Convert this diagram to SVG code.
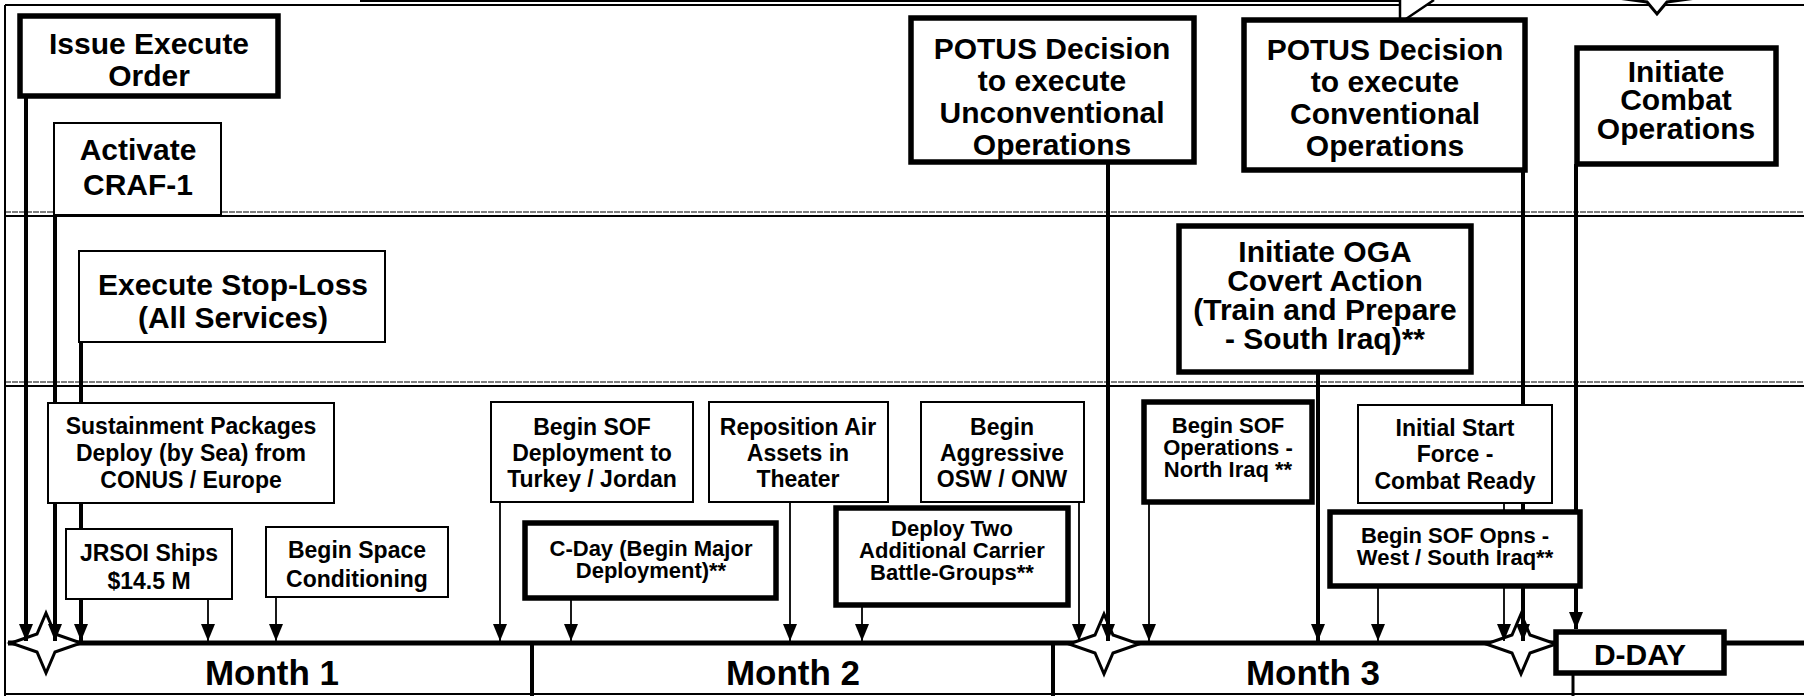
<svg xmlns="http://www.w3.org/2000/svg" width="1804" height="696" viewBox="0 0 1804 696">
<style>
text{font-family:"Liberation Sans",Arial,Helvetica,sans-serif;font-weight:bold;fill:#000;text-anchor:middle}
.b{font-size:30px}
.m{font-size:23px}
.s{font-size:22px}
.mo{font-size:35px}
.thin{fill:#fff;stroke:#000;stroke-width:2}
.thick{fill:#fff;stroke:#000;stroke-width:5.5}
.c1{stroke:#000;stroke-width:4;fill:none}
.c2{stroke:#000;stroke-width:1.8;fill:none}
.ln{stroke:#000;fill:none}
.star{fill:#fff;stroke:#000;stroke-width:3;stroke-linejoin:miter}
</style>
<defs>
<marker id="ah" markerUnits="userSpaceOnUse" markerWidth="17" markerHeight="14" viewBox="0 0 17 14" refX="17" refY="7" orient="auto">
<path d="M0,0 L17,7 L0,14 Z" fill="#000"/>
</marker>
<path id="star" d="M0,-30 L9,-9 L35,0 L9,9 L0,30 L-9,9 L-35,0 L-9,-9 Z"/>
</defs>
<rect width="1804" height="696" fill="#fff"/>
<g id="frame">
<line class="ln" x1="5" y1="5" x2="1804" y2="5" stroke-width="2"/>
<line class="ln" x1="5" y1="5" x2="5" y2="696" stroke-width="2"/>
<line class="ln" x1="360" y1="1" x2="1400" y2="1" stroke-width="2"/>
<path d="M1400,0 L1400,23 L1434,0" fill="#fff" stroke="#000" stroke-width="2.5"/>
<path d="M1603,-4 L1647,2 L1657,14 L1667,2 L1711,-4 L1667,-10 L1657,-22 L1647,-10 Z" fill="#fff" stroke="#000" stroke-width="3"/>
<line class="ln" x1="5" y1="212" x2="1804" y2="212" stroke-width="1.2" stroke-dasharray="6 1"/>
<line class="ln" x1="5" y1="216" x2="1804" y2="216" stroke-width="1.8"/>
<line class="ln" x1="5" y1="382" x2="1804" y2="382" stroke-width="1.2" stroke-dasharray="6 1"/>
<line class="ln" x1="5" y1="386" x2="1804" y2="386" stroke-width="1.8"/>
</g>
<g id="timeline">
<line class="ln" x1="8" y1="643" x2="1804" y2="643" stroke-width="5"/>
<line class="ln" x1="5" y1="694" x2="1804" y2="694" stroke-width="2"/>
<line class="ln" x1="532" y1="643" x2="532" y2="696" stroke-width="4"/>
<line class="ln" x1="1053" y1="643" x2="1053" y2="696" stroke-width="4"/>
<line class="ln" x1="1573" y1="643" x2="1573" y2="696" stroke-width="3"/>
<text class="mo" x="272" y="685">Month 1</text>
<text class="mo" x="793" y="685">Month 2</text>
<text class="mo" x="1313" y="685">Month 3</text>
<use href="#star" class="star" x="46" y="643"/>
<use href="#star" class="star" x="1104" y="644"/>
<use href="#star" class="star" x="1521" y="644"/>
</g>
<g id="connectors">
<line class="c1" x1="26" y1="98" x2="26" y2="641" marker-end="url(#ah)"/>
<line class="c1" x1="55" y1="215" x2="55" y2="641" marker-end="url(#ah)"/>
<line class="c1" x1="81" y1="342" x2="81" y2="641" marker-end="url(#ah)"/>
<line class="c2" x1="208" y1="599" x2="208" y2="641" marker-end="url(#ah)"/>
<line class="c2" x1="276" y1="597" x2="276" y2="641" marker-end="url(#ah)"/>
<line class="c2" x1="500" y1="502" x2="500" y2="641" marker-end="url(#ah)"/>
<line class="c2" x1="571" y1="600" x2="571" y2="641" marker-end="url(#ah)"/>
<line class="c2" x1="790" y1="502" x2="790" y2="641" marker-end="url(#ah)"/>
<line class="c2" x1="862" y1="607" x2="862" y2="641" marker-end="url(#ah)"/>
<line class="c2" x1="1079" y1="502" x2="1079" y2="641" marker-end="url(#ah)"/>
<line class="c1" x1="1108" y1="164" x2="1108" y2="641" marker-end="url(#ah)"/>
<line class="c2" x1="1149" y1="503" x2="1149" y2="641" marker-end="url(#ah)"/>
<line class="c1" x1="1318" y1="374" x2="1318" y2="641" marker-end="url(#ah)"/>
<line class="c2" x1="1378" y1="587" x2="1378" y2="641" marker-end="url(#ah)"/>
<line class="c2" x1="1504" y1="503" x2="1504" y2="641" marker-end="url(#ah)"/>
<line class="c1" x1="1523" y1="172" x2="1523" y2="641" marker-end="url(#ah)"/>
<line class="c1" x1="1576" y1="164" x2="1576" y2="629" marker-end="url(#ah)"/>
</g>
<g id="issue-execute-order">
<rect class="thick" x="20" y="16" width="258" height="80"/>
<text class="b" x="149" y="54">Issue Execute</text>
<text class="b" x="149" y="86">Order</text>
</g>
<g id="activate-craf-1">
<rect class="thin" x="54" y="123" width="167" height="92"/>
<text class="b" x="138" y="160">Activate</text>
<text class="b" x="138" y="195">CRAF-1</text>
</g>
<g id="execute-stop-loss">
<rect class="thin" x="79" y="251" width="306" height="91"/>
<text class="b" x="233" y="295">Execute Stop-Loss</text>
<text class="b" x="233" y="328">(All Services)</text>
</g>
<g id="sustainment-packages">
<rect class="thin" x="48" y="403" width="286" height="100"/>
<text class="m" x="191" y="434">Sustainment Packages</text>
<text class="m" x="191" y="461">Deploy (by Sea) from</text>
<text class="m" x="191" y="488">CONUS / Europe</text>
</g>
<g id="jrsoi-ships">
<rect class="thin" x="66" y="529" width="166" height="70"/>
<text class="m" x="149" y="561">JRSOI Ships</text>
<text class="m" x="149" y="589">$14.5 M</text>
</g>
<g id="begin-space-conditioning">
<rect class="thin" x="266" y="527" width="182" height="70"/>
<text class="m" x="357" y="558">Begin Space</text>
<text class="m" x="357" y="587">Conditioning</text>
</g>
<g id="begin-sof-deployment">
<rect class="thin" x="491" y="402" width="202" height="100"/>
<text class="m" x="592" y="435">Begin SOF</text>
<text class="m" x="592" y="461">Deployment to</text>
<text class="m" x="592" y="487">Turkey / Jordan</text>
</g>
<g id="c-day">
<rect class="thick" x="525" y="523" width="251" height="75"/>
<text class="s" x="651" y="556">C-Day (Begin Major</text>
<text class="s" x="651" y="578">Deployment)**</text>
</g>
<g id="reposition-air-assets">
<rect class="thin" x="709" y="402" width="179" height="100"/>
<text class="m" x="798" y="435">Reposition Air</text>
<text class="m" x="798" y="461">Assets in</text>
<text class="m" x="798" y="487">Theater</text>
</g>
<g id="begin-aggressive-osw-onw">
<rect class="thin" x="921" y="402" width="163" height="100"/>
<text class="m" x="1002" y="435">Begin</text>
<text class="m" x="1002" y="461">Aggressive</text>
<text class="m" x="1002" y="487">OSW / ONW</text>
</g>
<g id="deploy-two-carrier-groups">
<rect class="thick" x="836" y="508" width="232" height="97"/>
<text class="s" x="952" y="536">Deploy Two</text>
<text class="s" x="952" y="558">Additional Carrier</text>
<text class="s" x="952" y="580">Battle-Groups**</text>
</g>
<g id="potus-unconventional">
<rect class="thick" x="911" y="18" width="283" height="144"/>
<text class="b" x="1052" y="59">POTUS Decision</text>
<text class="b" x="1052" y="91">to execute</text>
<text class="b" x="1052" y="123">Unconventional</text>
<text class="b" x="1052" y="155">Operations</text>
</g>
<g id="potus-conventional">
<rect class="thick" x="1244" y="20" width="281" height="150"/>
<text class="b" x="1385" y="60">POTUS Decision</text>
<text class="b" x="1385" y="92">to execute</text>
<text class="b" x="1385" y="124">Conventional</text>
<text class="b" x="1385" y="156">Operations</text>
</g>
<g id="initiate-combat-operations">
<rect class="thick" x="1577" y="48" width="199" height="116"/>
<text class="b" x="1676" y="82">Initiate</text>
<text class="b" x="1676" y="110">Combat</text>
<text class="b" x="1676" y="139">Operations</text>
</g>
<g id="initiate-oga-covert-action">
<rect class="thick" x="1179" y="226" width="292" height="146"/>
<text class="b" x="1325" y="262">Initiate OGA</text>
<text class="b" x="1325" y="291">Covert Action</text>
<text class="b" x="1325" y="320">(Train and Prepare</text>
<text class="b" x="1325" y="349">- South Iraq)**</text>
</g>
<g id="begin-sof-north-iraq">
<rect class="thick" x="1144" y="402" width="168" height="100"/>
<text class="s" x="1228" y="433">Begin SOF</text>
<text class="s" x="1228" y="455">Operations -</text>
<text class="s" x="1228" y="477">North Iraq **</text>
</g>
<g id="initial-start-force">
<rect class="thin" x="1358" y="405" width="194" height="98"/>
<text class="m" x="1455" y="436">Initial Start</text>
<text class="m" x="1455" y="462">Force -</text>
<text class="m" x="1455" y="489">Combat Ready</text>
</g>
<g id="begin-sof-west-south">
<rect class="thick" x="1330" y="512" width="250" height="74"/>
<text class="s" x="1455" y="543">Begin SOF Opns -</text>
<text class="s" x="1455" y="565">West / South Iraq**</text>
</g>
<g id="d-day">
<rect class="thick" x="1556" y="632" width="168" height="41"/>
<text class="b" x="1640" y="665">D-DAY</text>
</g>
</svg>
